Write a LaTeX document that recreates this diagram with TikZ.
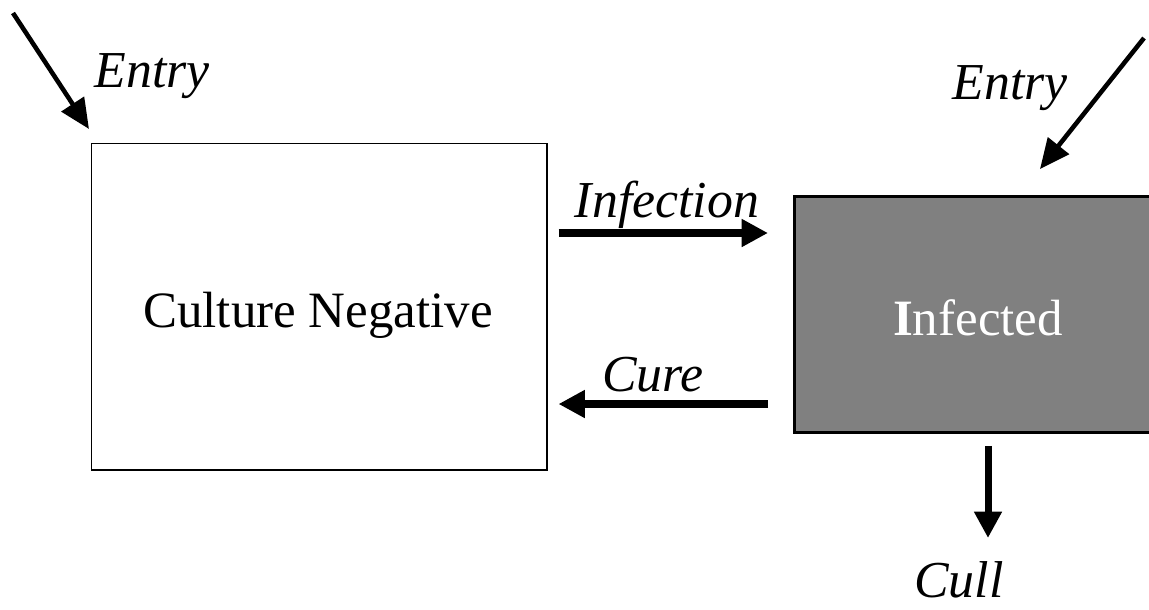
\documentclass[tikz,border=0pt]{standalone}
\usepackage{fontspec}
\setmainfont{Liberation Serif}
\usetikzlibrary{arrows.meta}
\begin{document}
\begin{tikzpicture}[x=0.02cm,y=-0.02cm,
  bigtxt/.style={font=\fontsize{29}{34}\selectfont},
  lbl/.style={font=\fontsize{29.5}{34}\selectfont\itshape},
  bigarrow/.style={line width=4pt,-{Triangle[length=15pt,width=15pt]}},
  entryarrow/.style={line width=2.6pt,-{Triangle[length=17pt,width=15pt]}},
  boxstyle/.style={draw,anchor=north west,inner sep=0pt}]
\clip (0,0) rectangle (1149,609);
\fill[white] (0,0) rectangle (1149,609);
% boxes
\node[boxstyle,line width=0.85pt,fill=white,minimum width=455*0.02cm,minimum height=326*0.02cm] (lbox) at (91,143) {};
\node[bigtxt] (cn) at (318,315) {Culture Negative};
\node[boxstyle,line width=1.7pt,fill={rgb,255:red,128;green,128;blue,128},minimum width=400*0.02cm,minimum height=236*0.02cm] (rbox) at (793,195) {};
\node[bigtxt,text=white] (inf) at (978,318) {\textbf{I}nfected};
% arrows
\coordinate (e1) at (13,13);
\coordinate (e2) at (1144,38);
\draw[entryarrow] (e1) -- ([shift={(-2,-14)}]lbox.north west);
\draw[entryarrow] (e2) -- ([shift={(247,-26)}]rbox.north west);
\draw[bigarrow] ([shift={(11,90)}]lbox.north east) -- ([shift={(-25,38)}]rbox.north west);
\draw[bigarrow] ([shift={(-25,209)}]rbox.north west) -- ([shift={(11,261)}]lbox.north east);
\draw[bigarrow] ([shift={(195,12)}]rbox.south west) -- ([shift={(195,104)}]rbox.south west);
% labels
\node[lbl] (l1) at (152,76) {Entry};
\node[lbl] (l2) at (1010,88) {Entry};
\node[lbl] (l3) at (667,205) {Infection};
\node[lbl] (l4) at (653,375) {Cure};
\node[lbl] (l5) at (959,580) {Cull};
\end{tikzpicture}
\end{document}
